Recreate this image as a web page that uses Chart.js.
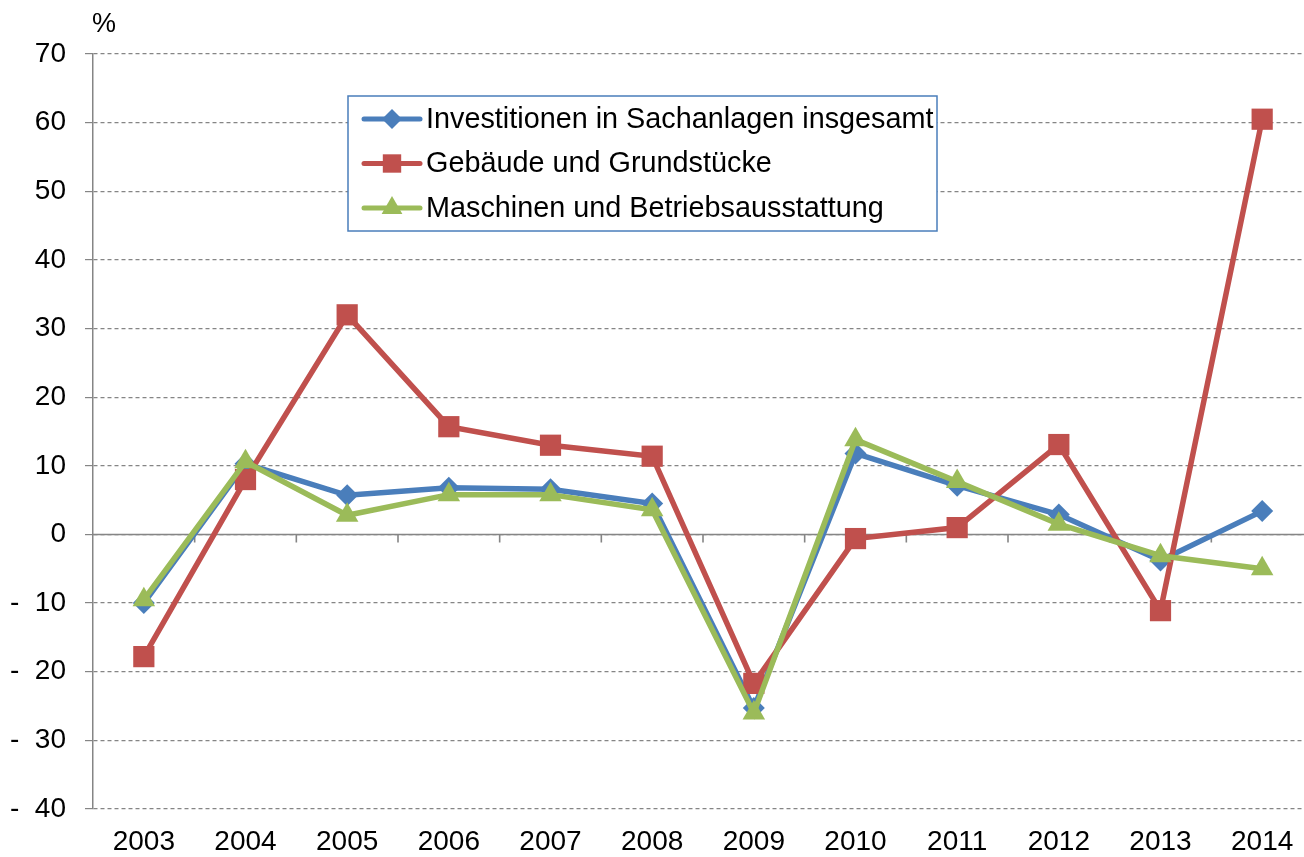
<!DOCTYPE html>
<html>
<head>
<meta charset="utf-8">
<script src="https://cdn.jsdelivr.net/npm/chart.js@4"></script>
<style>
  html, body { margin: 0; padding: 0; background: #fff; overflow: hidden; }
  canvas { display: block; }
</style>
</head>
<body>
<canvas id="grafica" width="1328" height="857"></canvas>
<script>
var jahre = ['2003','2004','2005','2006','2007','2008','2009','2010','2011','2012','2013','2014'];
var investitionen = [-10, 10.3, 5.7, 6.8, 6.6, 4.5, -25.3, 11.8, 7.1, 2.9, -3.8, 3.4];
var gebaeude = [-17.8, 8.0, 32.0, 15.7, 13.0, 11.4, -21.7, -0.6, 1.0, 13.1, -11.1, 60.5];
var maschinen = [-9.5, 10.6, 2.8, 5.8, 5.8, 3.6, -26.0, 13.8, 7.7, 1.5, -3.1, -5.0];
var namen = ['Investitionen in Sachanlagen insgesamt', 'Gebäude und Grundstücke', 'Maschinen und Betriebsausstattung'];

var blau = '#4a7ebb', rot = '#c0504d', gruen = '#9bbb59';
var grau = '#858585';
var schrift = '"Liberation Sans", Arial, sans-serif';

// Nulllinie mit Strichen zwischen den Kategorien, Legende und Einheit
var extras = {
    id: 'extras',
    beforeDatasetsDraw: function (chart) {
        var ctx = chart.ctx;
        var x = chart.scales.x, y = chart.scales.y;
        var y0 = y.getPixelForValue(0);
        ctx.save();
        ctx.strokeStyle = grau;
        ctx.lineWidth = 1.6;
        ctx.beginPath();
        ctx.moveTo(chart.chartArea.left, y0);
        ctx.lineTo(chart.chartArea.right, y0);
        for (var i = 1; i < jahre.length; i++) {
            var xp = (x.getPixelForValue(i - 1) + x.getPixelForValue(i)) / 2;
            ctx.moveTo(xp, y0);
            ctx.lineTo(xp, y0 + 8);
        }
        ctx.stroke();
        ctx.restore();
    },
    afterDraw: function (chart) {
        var ctx = chart.ctx;
        ctx.save();
        ctx.fillStyle = '#000';
        ctx.font = '27px ' + schrift;
        ctx.textAlign = 'center';
        ctx.textBaseline = 'middle';
        ctx.fillText('%', 104, 25);

        // Legende
        var lx = 348, ly = 96, lw = 589, lh = 135;
        ctx.fillStyle = '#fff';
        ctx.fillRect(lx, ly, lw, lh);
        ctx.strokeStyle = blau;
        ctx.lineWidth = 1.5;
        ctx.strokeRect(lx, ly, lw, lh);
        var farben = [blau, rot, gruen];
        var stile = ['rectRot', 'rect', 'triangle'];
        var radien = [10, 13, 12];
        for (var i = 0; i < 3; i++) {
            var yy = 119 + i * 44.5;
            ctx.strokeStyle = farben[i];
            ctx.lineWidth = 5;
            ctx.lineCap = 'round';
            ctx.beginPath();
            ctx.moveTo(364, yy);
            ctx.lineTo(420, yy);
            ctx.stroke();
            ctx.fillStyle = farben[i];
            Chart.helpers.drawPoint(ctx, { pointStyle: stile[i], radius: radien[i], rotation: 0, borderWidth: 0 }, 392, yy);
            ctx.fillStyle = '#000';
            ctx.textAlign = 'left';
            ctx.font = '28.8px ' + schrift;
            ctx.fillText(namen[i], 426, yy + 1);
        }
        ctx.restore();
    }
};

function serie(label, daten, farbe, stil, radius, reihenfolge) {
    return {
        label: label,
        data: daten,
        borderColor: farbe,
        backgroundColor: farbe,
        borderWidth: 5.5,
        pointStyle: stil,
        pointRadius: radius,
        pointBorderWidth: 0,
        pointBackgroundColor: farbe,
        tension: 0,
        order: reihenfolge
    };
}

var ctx = document.getElementById('grafica').getContext('2d');
var myChart = new Chart(ctx, {
    type: 'line',
    data: {
        labels: jahre,
        datasets: [
            serie(namen[0], investitionen, blau, 'rectRot', 11, 2),
            serie(namen[1], gebaeude, rot, 'rect', 15, 1),
            serie(namen[2], maschinen, gruen, 'triangle', 13, 0)
        ]
    },
    plugins: [extras],
    options: {
        responsive: false,
        animation: false,
        layout: { padding: { top: 54, right: 0, left: 0, bottom: 0 } },
        plugins: { legend: { display: false }, tooltip: { enabled: false } },
        scales: {
            x: {
                offset: true,
                grid: { display: false, drawTicks: false },
                border: { display: false },
                ticks: { color: '#000', font: { size: 28, family: schrift }, padding: 16, maxRotation: 0 },
                afterFit: function (s) { s.height = 48; }
            },
            y: {
                min: -40,
                max: 70,
                ticks: {
                    stepSize: 10,
                    color: '#000',
                    font: { size: 28, family: schrift },
                    padding: 19,
                    callback: function (v) { return v < 0 ? '-  ' + Math.abs(v) : v; }
                },
                grid: { color: grau, lineWidth: 1.2, tickLength: 8, tickColor: grau, tickBorderDash: [] },
                border: { color: grau, width: 1.5, dash: [4, 3] },
                afterFit: function (s) { s.width = 93; }
            }
        }
    }
});
</script>
</body>
</html>
